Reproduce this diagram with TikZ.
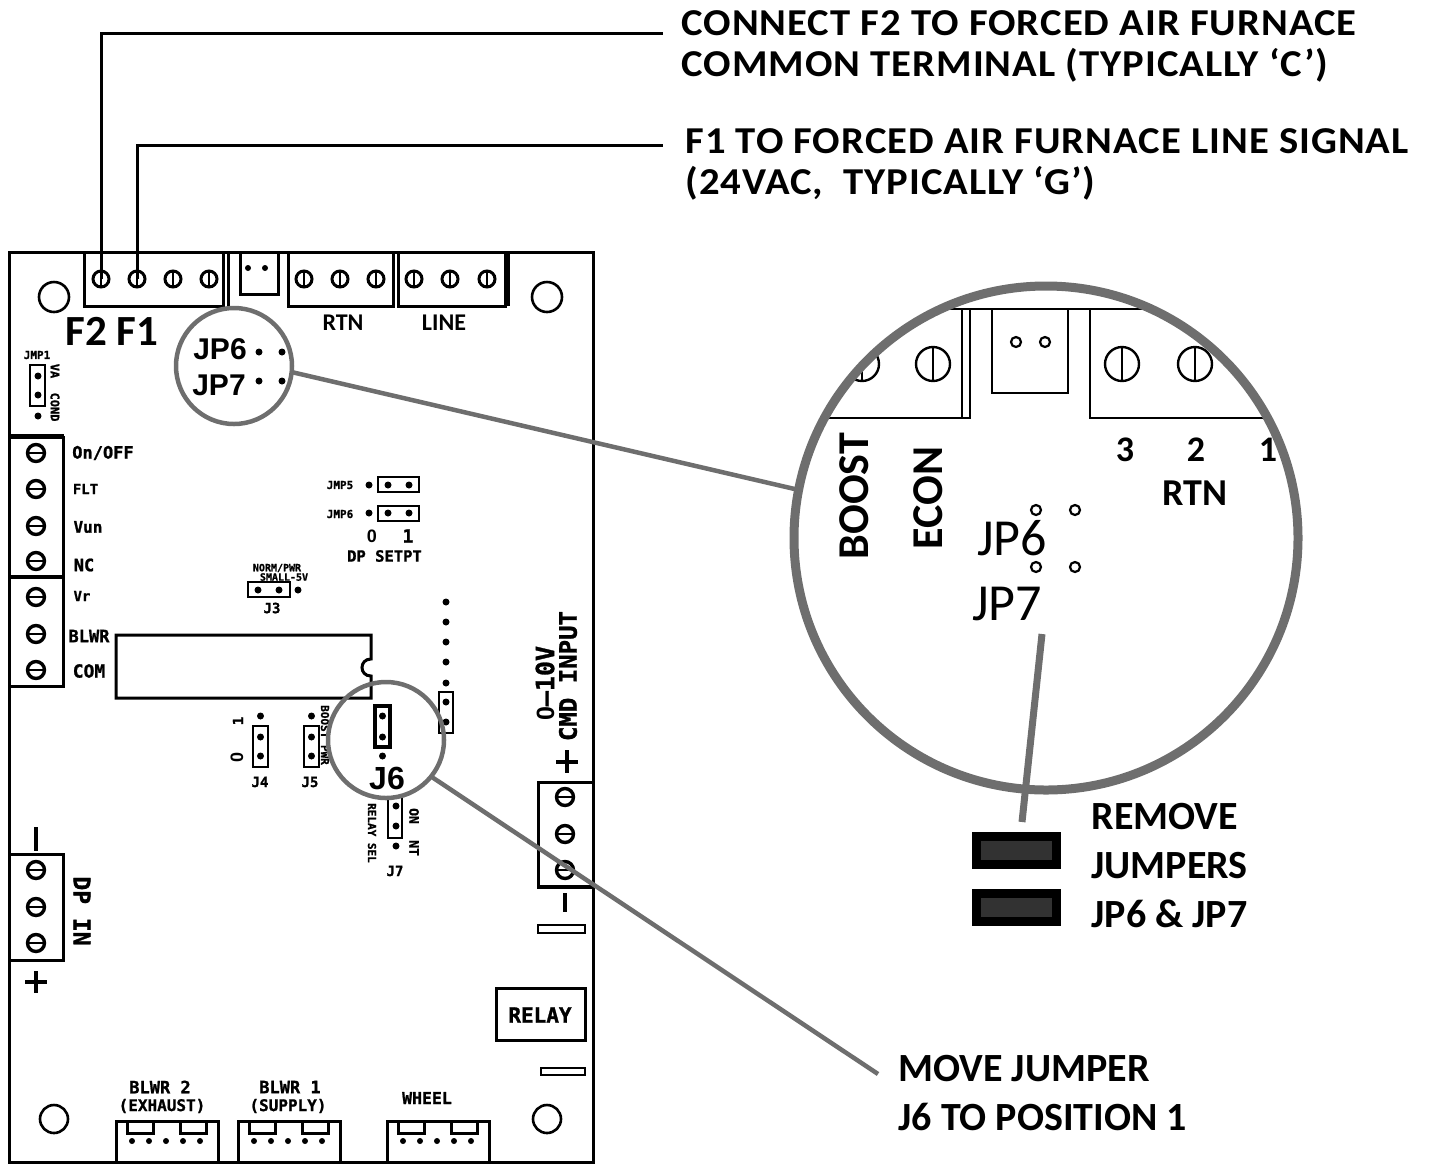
\documentclass[tikz,border=0pt]{standalone}
\usepackage{fontspec}
\setmainfont{Carlito}
\newfontfamily\calloutfont{Carlito}[FakeStretch=1.07,LetterSpace=2.6]
\newfontfamily\jumperfont{Liberation Sans}
\newfontfamily\boardfont{DejaVu Sans Mono}[BoldFeatures={FakeBold=1.2}]
\definecolor{lensgray}{RGB}{110,110,110}
\definecolor{capgray}{RGB}{50,50,50}
\newcommand{\sz}[1]{\fontsize{#1}{#1}\selectfont}
\tikzset{
	callout/.style={anchor=west,inner sep=0pt,font=\calloutfont\sz{38}\bfseries},
	notetext/.style={anchor=west,inner sep=0pt,font=\sz{40}\bfseries},
	boardtext/.style={inner sep=0pt,font=\boardfont\bfseries\sz{#1}},
	boardtext/.default=16,
	lenstext/.style={inner sep=0pt,font=\sz{#1}\bfseries},
	jptext/.style={inner sep=0pt,font=\jumperfont\sz{#1}\bfseries},
	pad/.style={circle,fill=black,minimum size=7pt,inner sep=0pt},
	openpad/.style={circle,draw,line width=2.2pt,minimum size=10pt,inner sep=0pt},
	screwv/.style={circle,draw,line width=3pt,minimum size=#1,inner sep=0pt,
		path picture={\draw[line width=2.2pt] (path picture bounding box.north) -- (path picture bounding box.south);}},
	screwv/.default=16pt,
	screwh/.style={circle,draw,line width=3.4pt,minimum size=17pt,inner sep=0pt,
		path picture={\draw[line width=2.6pt] (path picture bounding box.west) -- (path picture bounding box.east);}},
	hole/.style={circle,draw,line width=2.6pt,minimum size=#1,inner sep=0pt},
	lensring/.style={circle,draw=lensgray,outer sep=0pt,inner sep=0pt},
	jumpcap/.style={draw=black,line width=9pt,fill=capgray,minimum width=80pt,minimum height=28pt,inner sep=0pt},
	jumpbox/.style={line width=2pt},
}
\begin{document}
\begin{tikzpicture}[x=1pt,y=-1pt,line width=3pt]
	\useasboundingbox (0,0) rectangle (1429,1163);
	\def\boardoutline{(9,252) rectangle (593,1162)}
	\def\fblock{(84,252) rectangle (223,306)}
	\def\rtnblock{(288,252) rectangle (393,306)}
	\def\lineblock{(398,252) rectangle (505,306)}
	\def\chipoutline{(116,635) -- (371,635) -- (371,659) .. controls (359,659) and (359,676) .. (371,676) -- (371,698) -- (116,698) -- cycle}
	\draw \boardoutline;
	\draw \fblock;
	\draw (228,252) -- (228,306);
	\draw (240,252) rectangle (278,294);
	\draw \rtnblock;
	\draw \lineblock;
	\draw (508,252) -- (508,306);
	\node[pad,minimum size=6pt] (jackA) at (248,268) {};
	\node[pad,minimum size=6pt] (jackB) at (265,268) {};
	\node[screwv] (scrFtwo) at (101,279) {};
	\node[screwv] (scrFone) at (137,279) {};
	\foreach \x/\n in {173/a,209/b}
	\node[screwv] (scrF\n) at (\x,279) {};
	\foreach \x/\n in {304/a,340/b,376/c}
	\node[screwv] (scrR\n) at (\x,279) {};
	\foreach \x/\n in {414/a,450/b,487/c}
	\node[screwv] (scrL\n) at (\x,279) {};
	\foreach \x/\y/\d/\n in {54/297/30pt/a,547/297/30pt/b,54/1119/28pt/c,547/1119/28pt/d}
	\node[hole=\d] (hole\n) at (\x,\y) {};
	\node[lenstext=43] (fLabel) at (112,331) {F2 F1};
	\node[lenstext=24] (rtnLabel) at (343,323) {RTN};
	\node[lenstext=24] (lineLabel) at (444,323) {LINE};
	% leads
	\coordinate (leadF2) at (663,33);
	\coordinate (leadF1) at (663,145);
	\draw (scrFtwo.center) |- (leadF2);
	\draw (scrFone.center) |- (leadF1);
	\node[callout] (noteAa) at (680,23) {CONNECT F2 TO FORCED AIR FURNACE};
	\node[callout] (noteAb) at (680,65) {COMMON TERMINAL (TYPICALLY ‘C’)};
	\node[callout] (noteBa) at (684,141) {F1 TO FORCED AIR FURNACE LINE SIGNAL};
	\node[callout] (noteBb) at (684,183) {(24VAC,\ \ TYPICALLY ‘G’)};
	% left terminal blocks
	\draw (9,437) rectangle (63,577);
	\draw[line width=5pt] (9,436) -- (64,436);
	\draw[line width=4pt] (9,577) -- (64,577);
	\draw (9,577) rectangle (63,686);
	\foreach \y/\n in {453/a,489/b,526/c,561/d,597/e,634/f,670/g}
	\node[screwh] (scrP\n) at (36,\y) {};
	\node[boardtext=17] (onOff) at (103,453) {On/OFF};
	\node[boardtext=14] (fltLabel) at (85.5,489) {FLT};
	\node[boardtext=16] (vunLabel) at (88,527) {Vun};
	\node[boardtext=17] (ncLabel) at (84,565) {NC};
	\node[boardtext=14] (vrLabel) at (82,596) {Vr};
	\node[boardtext=17] (blwrLabel) at (89,636) {BLWR};
	\node[boardtext=18] (comLabel) at (89,671) {COM};
	\draw \chipoutline;
	% jumper jmp1
	\draw[jumpbox] (30,365) rectangle (45,406);
	\foreach \y/\n in {376/a,395/b,416/c}
	\node[pad] (jmpOne\n) at (38,\y) {};
	\node[boardtext=11] (jmpOneLabel) at (37,355) {JMP1};
	\node[boardtext=12,rotate=-90] (jmpOneVa) at (55,371) {VA};
	\node[boardtext=12,rotate=-90] (jmpOneCond) at (55,407) {COND};
	% dp setpoint
	\draw[jumpbox] (378,477) rectangle (419,492);
	\draw[jumpbox] (378,506) rectangle (419,521);
	\foreach \y/\n in {485/a,513/b}{
		\node[pad] (setL\n) at (369,\y) {};
		\node[pad] (setM\n) at (388,\y) {};
		\node[pad] (setR\n) at (409,\y) {};
	}
	\node[boardtext=11] (jmpFive) at (340,485) {JMP5};
	\node[boardtext=11] (jmpSix) at (340,514) {JMP6};
	\node[jptext=18] (setZero) at (372,536) {0};
	\node[boardtext=18] (setOne) at (408,536) {1};
	\node[boardtext=15.5] (setLabel) at (384.5,556) {DP SETPT};
	% j3
	\draw[jumpbox] (248,582) rectangle (290,597);
	\foreach \x/\n in {258/a,279/b,298/c}
	\node[pad] (jThree\n) at (\x,590) {};
	\node[boardtext=10] (jThreeA) at (277,568) {NORM/PWR};
	\node[boardtext=10] (jThreeB) at (284,577) {SMALL-5V};
	\node[boardtext=14] (jThreeLabel) at (272,608) {J3};
	% pad column
	\foreach \y/\n in {602/a,622/b,642/c,662/d,683/e,702/f,722/g}
	\node[pad] (col\n) at (446,\y) {};
	\draw[jumpbox] (439,692) rectangle (453,733);
	% j4 j5
	\draw[jumpbox] (253,726) rectangle (268,767);
	\draw[jumpbox] (304,726) rectangle (319,767);
	\foreach \y/\n in {716/a,737/b,756/c}{
		\node[pad] (jFour\n) at (260.5,\y) {};
		\node[pad] (jFive\n) at (311.5,\y) {};
		\node[pad] (jSix\n) at (382.5,\y) {};
	}
	\node[boardtext=14,rotate=90] (jFourOne) at (238,721) {1};
	\node[jptext=18,rotate=90] (jFourZero) at (237,757) {0};
	\node[boardtext=14] (jFourLabel) at (260,782) {J4};
	\node[boardtext=14] (jFiveLabel) at (310,782) {J5};
	\node[boardtext=11,rotate=-90] (jFiveText) at (325,735) {BOOST PWR};
	\draw[line width=4.5pt] (375,706) rectangle (390,747);
	\node[jptext=32] (jSixLabel) at (387,778) {J6};
	% j7
	\draw[jumpbox] (388,797) rectangle (402,838);
	\foreach \y/\n in {806/a,826/b,846/c}
	\node[pad] (jSeven\n) at (396,\y) {};
	\node[boardtext=11,rotate=-90] (relaySel) at (372,833) {RELAY SEL};
	\node[boardtext=13,rotate=-90] (jSevenOn) at (414,816) {ON};
	\node[boardtext=13,rotate=-90] (jSevenNt) at (414,848) {NT};
	\node[boardtext=14] (jSevenLabel) at (395,871) {J7};
	% right side
	\node[boardtext=25,rotate=90] (cmdRange) at (545,683) {{\jumperfont 0}–10V};
	\node[boardtext=24,rotate=90] (cmdLabel) at (568,676) {CMD INPUT};
	\draw[line width=4pt] (567,750) -- (567,773) (556,762) -- (578,762);
	\draw (538,782) rectangle (593,887);
	\draw[line width=4.5pt] (538,887) -- (593,887);
	\foreach \y/\n in {797/a,834/b,870/c}
	\node[screwh] (scrC\n) at (565,\y) {};
	\draw[line width=4pt] (565,893) -- (565,912);
	\draw[jumpbox] (538,925) rectangle (585,933);
	\draw (496,988) rectangle (585,1040);
	\node[boardtext=21] (relayLabel) at (540,1015) {RELAY};
	\draw[jumpbox] (541,1068) rectangle (585,1075);
	% dp in
	\draw (9,854) rectangle (63,960);
	\foreach \y/\n in {870/a,907/b,943/c}
	\node[screwh] (scrD\n) at (36,\y) {};
	\draw[line width=4pt] (36,827) -- (36,851);
	\draw[line width=4pt] (36,971) -- (36,993) (25,982) -- (47,982);
	\node[boardtext=23,rotate=-90] (dpIn) at (82,911) {DP IN};
	% bottom connectors
	\foreach \x/\n in {116/a,238/b,387/c}{
		\draw (\x,1162) -- (\x,1121) -- (\x+102,1121) -- (\x+102,1162);
		\draw (\x+11,1121) -- (\x+11,1133) -- (\x+37,1133) -- (\x+37,1121);
		\draw (\x+64,1121) -- (\x+64,1133) -- (\x+90,1133) -- (\x+90,1121);
		\foreach \d/\m in {16/a,33/b,50/c,67/d,84/e}
		\node[pad,minimum size=6pt] (bot\n\m) at (\x+\d,1141) {};
	}
	\node[boardtext=17] (blwrTwo) at (160,1087) {BLWR 2};
	\node[boardtext=16] (blwrTwoB) at (162,1106) {(EXHAUST)};
	\node[boardtext=17] (blwrOne) at (290,1087) {BLWR 1};
	\node[boardtext=16] (blwrOneB) at (288,1106) {(SUPPLY)};
	\node[boardtext=16.5] (wheelLabel) at (427,1098) {WHEEL};
	% small lenses
	\node[lensring,line width=4.5pt,minimum size=116pt] (lensJP) at (234,366) {};
	\node[lensring,line width=4.5pt,minimum size=116pt] (lensJ) at (386,740) {};
	\node[jptext=30] (jpSix) at (220,349) {JP6};
	\node[jptext=30] (jpSeven) at (219,385) {JP7};
	\foreach \x/\y/\n in {259/352/a,282/352/b,259/381/c,282/381/d}
	\node[pad] (jpPad\n) at (\x,\y) {};
	% magnified view
	\begin{scope}[line width=2.6pt]
		\clip (1046,538) circle (252pt);
		\draw (930,309) -- (1160,309);
		\draw (815,418) -- (970,418) -- (970,309) (962,309) -- (962,418);
		\draw (992,309) -- (992,393) -- (1068,393) -- (1068,309);
		\draw (1090,309) -- (1090,418) -- (1280,418);
		\foreach \x/\n in {862/a,933/b,1122/c,1195/d}
		\node[screwv=34pt,line width=2.4pt] (magScr\n) at (\x,364) {};
	\end{scope}
	\node[openpad] (magJackA) at (1016,342) {};
	\node[openpad] (magJackB) at (1045,342) {};
	\foreach \x/\y/\n in {1036/510/a,1075/510/b,1036/567/c,1075/567/d}
	\node[openpad] (magPad\n) at (\x,\y) {};
	\node[lenstext=44,rotate=90] (boostLabel) at (854,496) {BOOST};
	\node[lenstext=44,rotate=90] (econLabel) at (928,498) {ECON};
	\node[lenstext=36] (magThree) at (1125,450) {3};
	\node[lenstext=36] (magTwo) at (1196,450) {2};
	\node[lenstext=36] (magOne) at (1268,450) {1};
	\node[lenstext=38] (magRtn) at (1195,493) {RTN};
	\node[inner sep=0pt,font=\sz{52}] (magSix) at (1012,538) {JP6};
	\node[inner sep=0pt,font=\sz{52}] (magSeven) at (1007,604) {JP7};
	\node[lensring,line width=9pt,minimum size=504pt] (lensBig) at (1046,538) {};
	% jumpers
	\coordinate (removeTop) at (1042,634);
	\coordinate (removeEnd) at (1022,822);
	\node[jumpcap] (jumpera) at (1016.5,850.5) {};
	\node[jumpcap] (jumperb) at (1016.5,907.5) {};
	\draw[lensgray,line width=7pt] (removeTop) -- (removeEnd);
	\node[notetext] (removeA) at (1090,817) {REMOVE};
	\node[notetext] (removeB) at (1090,866) {JUMPERS};
	\node[notetext] (removeC) at (1090,914) {JP6 \& JP7};
	\node[notetext] (moveA) at (897,1069) {MOVE JUMPER};
	\node[notetext] (moveB) at (897,1117) {J6 TO POSITION 1};
	% lens leaders
	\coordinate (moveEnd) at (878,1074);
	\draw[lensgray,line width=4.5pt] (lensJP.-6) -- (lensBig.169);
	\draw[lensgray,line width=4.5pt] (lensJ.-39) -- (moveEnd);
\end{tikzpicture}
\end{document}
